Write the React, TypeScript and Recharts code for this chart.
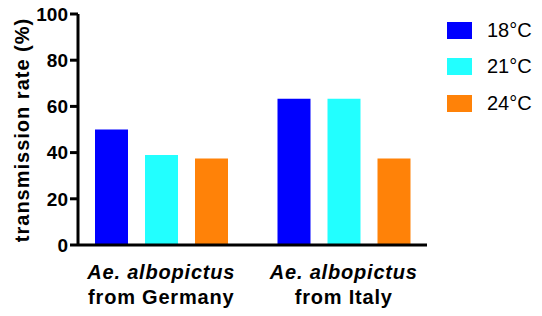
import React from 'react';
import { BarChart, Bar, XAxis, YAxis } from 'recharts';

const categories = ['Germany', 'Italy'];
const series18 = [50, 63.3];
const series21 = [39, 63.3];
const series24 = [37.5, 37.5];
const yTicks = [0, 20, 40, 60, 80, 100];
const seriesNames = ['18°C', '21°C', '24°C'];
const seriesColors = ['#0000ff', '#22ffff', '#ff8208'];

const data = categories.map((c, i) => ({
  name: c,
  s18: series18[i],
  s21: series21[i],
  s24: series24[i],
}));

const FONT = '"Liberation Sans", Arial, sans-serif';

const XTick = (props: any) => {
  const { x, y, payload } = props;
  return (
    <g transform={`translate(${x},${y})`}>
      <text textAnchor="middle" fontFamily={FONT} fontWeight="bold" fontSize={20} fill="#000" letterSpacing={0.8}>
        <tspan x={0} y={26} fontStyle="italic">Ae. albopictus</tspan>
        <tspan x={0} y={51}>{`from ${payload.value}`}</tspan>
      </text>
    </g>
  );
};

const LegendContent = () => (
  <div style={{ fontFamily: FONT }}>
    {seriesNames.map((n, i) => (
      <div key={n} style={{ display: 'flex', alignItems: 'center', height: 36.5 }}>
        <div style={{ width: 25, height: 17, background: seriesColors[i] }} />
        <span style={{ marginLeft: 15, fontSize: 20, color: '#000' }}>{n}</span>
      </div>
    ))}
  </div>
);

export default function App() {
  return (
    <div style={{ position: 'absolute', left: 0, top: 0, width: 542, height: 316, background: '#fff' }}>
      <BarChart
        width={542}
        height={316}
        data={data}
        margin={{ top: 14, right: 115, left: 0, bottom: 0 }}
        barSize={33}
        barGap={17}
      >
        <XAxis
          dataKey="name"
          height={71}
          padding={{ left: -8, right: -8 }}
          tickLine={false}
          axisLine={{ stroke: '#000', strokeWidth: 3 }}
          tick={<XTick />}
          interval={0}
        />
        <YAxis
          width={78}
          domain={[0, 100]}
          ticks={yTicks}
          interval={0}
          tickSize={8}
          tickMargin={2}
          axisLine={{ stroke: '#000', strokeWidth: 3 }}
          tickLine={{ stroke: '#000', strokeWidth: 3 }}
          tick={{ fill: '#000', fontFamily: FONT, fontWeight: 'bold', fontSize: 19 }}
          label={() => (
            <text
              x={22}
              y={130}
              transform="rotate(-90 22 130)"
              textAnchor="middle"
              dominantBaseline="central"
              fontFamily={FONT}
              fontWeight="bold"
              fontSize={20}
              letterSpacing={1}
              fill="#000"
            >
              transmission rate (%)
            </text>
          )}
        />
        <Bar dataKey="s18" name={seriesNames[0]} fill={seriesColors[0]} isAnimationActive={false} />
        <Bar dataKey="s21" name={seriesNames[1]} fill={seriesColors[1]} isAnimationActive={false} />
        <Bar dataKey="s24" name={seriesNames[2]} fill={seriesColors[2]} isAnimationActive={false} />
      </BarChart>
      <div style={{ position: 'absolute', left: 447, top: 12 }}>
        <LegendContent />
      </div>
    </div>
  );
}
